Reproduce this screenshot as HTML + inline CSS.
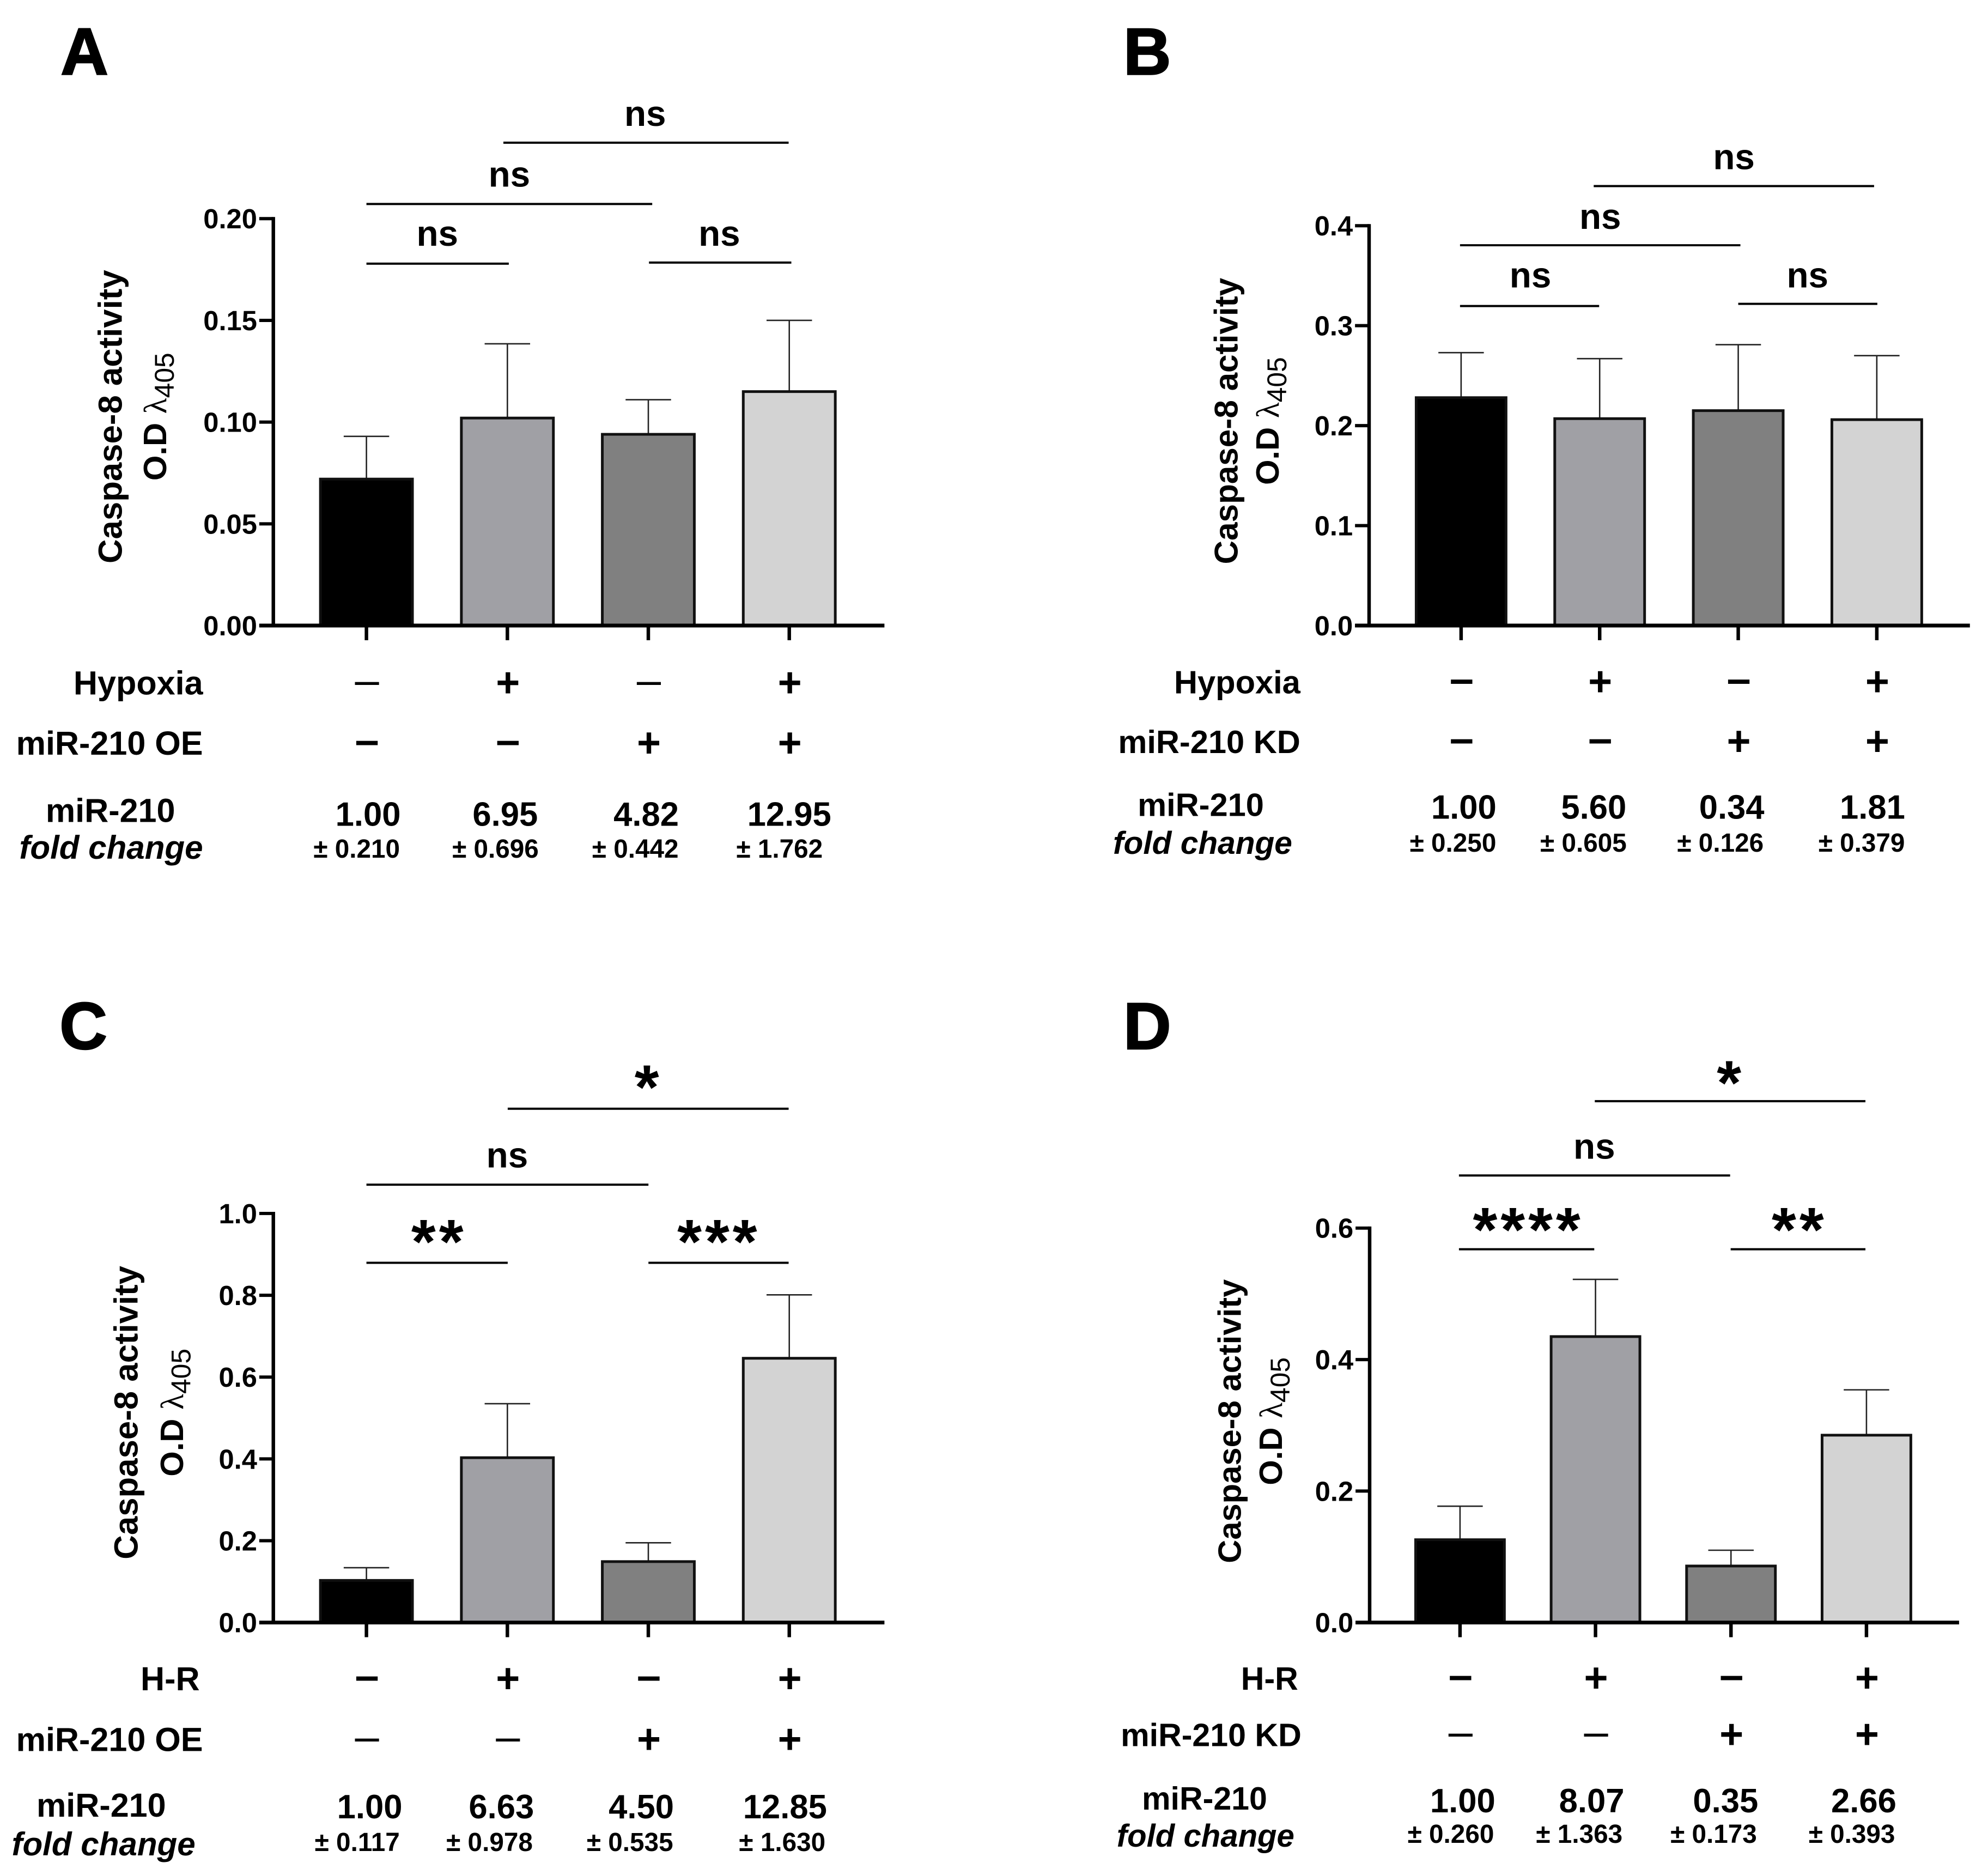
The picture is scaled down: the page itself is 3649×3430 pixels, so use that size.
<!DOCTYPE html>
<html lang="en">
<head>
<meta charset="utf-8">
<title>Caspase-8 activity panels</title>
<style>
html,body{margin:0;padding:0;background:#fff;}
svg{display:block;}
text{font-family:"Liberation Sans",Arial,sans-serif;font-weight:bold;fill:#000;}
</style>
</head>
<body>
<svg id="figure" xmlns="http://www.w3.org/2000/svg" width="3649" height="3430" viewBox="0 0 3649 3430">
<rect x="0" y="0" width="3649" height="3430" fill="#ffffff"/>
</svg>
<script>
const categories = ['control', 'stress', 'mir-210', 'stress-mir-210'];

const panelAValues = [0.072, 0.102, 0.094, 0.115];
const panelAErrorTops = [0.093, 0.1385, 0.111, 0.150];
const panelATicks = ['0.00', '0.05', '0.10', '0.15', '0.20'];
const panelAFold = ['1.00', '6.95', '4.82', '12.95'];
const panelAFoldError = ['± 0.210', '± 0.696', '± 0.442', '± 1.762'];

const panelBValues = [0.228, 0.207, 0.215, 0.206];
const panelBErrorTops = [0.273, 0.267, 0.281, 0.270];
const panelBTicks = ['0.0', '0.1', '0.2', '0.3', '0.4'];
const panelBFold = ['1.00', '5.60', '0.34', '1.81'];
const panelBFoldError = ['± 0.250', '± 0.605', '± 0.126', '± 0.379'];

const panelCValues = [0.103, 0.403, 0.149, 0.646];
const panelCErrorTops = [0.134, 0.535, 0.195, 0.801];
const panelCTicks = ['0.0', '0.2', '0.4', '0.6', '0.8', '1.0'];
const panelCFold = ['1.00', '6.63', '4.50', '12.85'];
const panelCFoldError = ['± 0.117', '± 0.978', '± 0.535', '± 1.630'];

const panelDValues = [0.126, 0.435, 0.086, 0.285];
const panelDErrorTops = [0.177, 0.522, 0.110, 0.354];
const panelDTicks = ['0.0', '0.2', '0.4', '0.6'];
const panelDFold = ['1.00', '8.07', '0.35', '2.66'];
const panelDFoldError = ['± 0.260', '± 1.363', '± 0.173', '± 0.393'];

const firstRowSigns = ['–', '+', '–', '+'];
const secondRowSigns = ['–', '–', '+', '+'];
const barColors = ['#000000', '#a0a0a5', '#808080', '#d3d3d3'];

const SVG_NS = 'http://www.w3.org/2000/svg';
const figure = document.getElementById('figure');

function make(tag, parent, attrs, content) {
  const el = document.createElementNS(SVG_NS, tag);
  Object.keys(attrs).forEach(function (k) { el.setAttribute(k, attrs[k]); });
  if (content !== undefined) { el.textContent = content; }
  parent.appendChild(el);
  return el;
}

function signAttrs(cx, rowY, sign, thin) {
  const isPlus = sign === '+';
  return {
    x: cx + 1,
    y: isPlus ? rowY + 26 : rowY + 22,
    'font-size': isPlus ? 76 : 80,
    'text-anchor': 'middle',
    style: (!isPlus && thin) ? 'font-weight:normal' : 'font-weight:bold'
  };
}

function drawPanel(p) {
  const g = make('g', figure, { transform: p.transform });
  
  

  const yMax = parseFloat(p.ticks[p.ticks.length - 1]);
  const yScale = function (v) { return p.y0 + (p.yTop - p.y0) * v / yMax; };
  const xScale = function (i) { return p.x0 + p.step * i; };

  const letter = make('text', g, { x: p.letterX, y: p.letterY, 'font-size': 122, stroke: '#000', 'stroke-width': 2.5 }, p.id.toUpperCase());
  
  

  categories.forEach(function (c, i) {
    const cx = xScale(i);
    const top = yScale(p.values[i]);
    const err = yScale(p.errors[i]);

    const stem = make('line', g, { x1: cx, x2: cx, y1: err, y2: top, stroke: '#222', 'stroke-width': 2.6 });
    
    

    const cap = make('line', g, { x1: cx - 42, x2: cx + 42, y1: err, y2: err, stroke: '#222', 'stroke-width': 2.6 });
    
    

    const bar = make('rect', g, { x: cx - p.barHalf, y: top, width: p.barHalf * 2, height: p.y0 - top, fill: barColors[i], stroke: '#111', 'stroke-width': 5 });
    
    

    const xTick = make('line', g, { x1: cx, x2: cx, y1: p.y0, y2: p.y0 + 27, stroke: '#000', 'stroke-width': 6.5 });
    
    

    const s1 = firstRowSigns[i];
    const sign1 = make('text', g, signAttrs(cx, p.row1Y, s1, p.row1Thin), s1);
    
    

    const s2 = secondRowSigns[i];
    const sign2 = make('text', g, signAttrs(cx, p.row2Y, s2, p.row2Thin), s2);
    
    

    const fold = make('text', g, { x: cx + p.foldDx[i], y: p.foldY + 22, 'font-size': 62, 'text-anchor': 'middle' }, p.fold[i]);
    
    

    const foldErr = make('text', g, { x: cx + p.foldErrDx[i], y: p.foldErrY + 17, 'font-size': 48, 'text-anchor': 'middle' }, p.foldError[i]);
    
    
  });

  p.ticks.forEach(function (t) {
    const y = yScale(parseFloat(t));
    const tick = make('line', g, { x1: p.axisX - 26, x2: p.axisX, y1: y, y2: y, stroke: '#000', 'stroke-width': 6 });
    
    

    const label = make('text', g, { x: p.axisX - 30, y: y + 18, 'font-size': 51, 'text-anchor': 'end' }, t);
    
    
  });

  const yAxis = make('line', g, { x1: p.axisX, x2: p.axisX, y1: p.yTop - 3, y2: p.y0 + 3, stroke: '#000', 'stroke-width': 6.5 });
  
  

  const xAxis = make('line', g, { x1: p.axisX - 26, x2: p.xEnd, y1: p.y0, y2: p.y0, stroke: '#000', 'stroke-width': 7 });
  
  

  const title1 = make('text', g, { transform: 'translate(' + p.title1X + ' ' + p.titleY + ') rotate(-90)', 'font-size': p.titleFont, 'text-anchor': 'middle', y: 21 }, 'Caspase-8 activity');
  
  

  const title2 = make('text', g, { transform: 'translate(' + p.title2X + ' ' + p.titleY + ') rotate(-90)', 'font-size': 60, 'text-anchor': 'middle', y: 21 });
  
  
  make('tspan', title2, {}, 'O.D ');
  const lam = make('tspan', title2, { style: 'font-family:"Liberation Serif","DejaVu Serif",serif;font-weight:normal' }, 'λ');
  
  
  const sub = make('tspan', title2, { dy: 14, 'font-size': 50, style: 'font-weight:normal' }, '405');
  
  

  const rowLabels = [
    [p.row1Label, p.labelRight1, p.row1Y + 22, 'normal', 'end', 'first-row-label'],
    [p.row2Label, p.labelRight2, p.row2Y + 22, 'normal', 'end', 'second-row-label'],
    ['miR-210', p.mirX, p.mirY + 22, 'normal', 'middle', 'mir-210-label'],
    ['fold change', p.foldLabelRight, p.foldLabelY + 15, 'italic', 'end', 'fold-change-label']
  ];
  rowLabels.forEach(function (r) {
    const t = make('text', g, { x: r[1], y: r[2], 'font-size': r[3] === 'italic' ? p.labelFont - 1 : p.labelFont, 'font-style': r[3], 'text-anchor': r[4] }, r[0]);
    
    
  });

  p.brackets.forEach(function (b, k) {
    const line = make('line', g, { x1: b.from, x2: b.to, y1: b.y, y2: b.y, stroke: '#000', 'stroke-width': 4 });
    
    

    const isStar = b.label !== 'ns';
    const lab = make('text', g, {
      x: b.labelX,
      y: isStar ? b.labelY + 54 : b.labelY + 20,
      'font-size': isStar ? 116 : 66,
      'text-anchor': 'middle',
      'letter-spacing': isStar ? 6 : 0
    }, b.label);
    
    
  });
}

drawPanel({
  id: 'a', transform: 'scale(0.9935 0.9957)',
  ticks: panelATicks, values: panelAValues, errors: panelAErrorTops, fold: panelAFold, foldError: panelAFoldError,
  axisX: 505, yTop: 403, y0: 1153, xEnd: 1634, x0: 677, step: 260.4, barHalf: 85,
  letterX: 112, letterY: 137, titleFont: 62, labelFont: 61.5,
  title1X: 204, title2X: 286, titleY: 768,
  row1Label: 'Hypoxia', row2Label: 'miR-210 OE', labelRight1: 375, labelRight2: 375,
  row1Y: 1258, row2Y: 1369, mirX: 204, mirY: 1493, foldLabelRight: 375, foldLabelY: 1568,
  foldY: 1500, foldErrY: 1564, foldDx: [3, -4, -4, 0], foldErrDx: [-18, -22, -24, -18], row1Thin: true, row2Thin: false,
  brackets: [
    { from: 930, to: 1457, y: 263, label: 'ns', labelX: 1192, labelY: 212 },
    { from: 677, to: 1205, y: 376, label: 'ns', labelX: 941, labelY: 324 },
    { from: 677, to: 940, y: 486, label: 'ns', labelX: 808, labelY: 433 },
    { from: 1199, to: 1462, y: 484, label: 'ns', labelX: 1329, labelY: 433 }
  ]
});

drawPanel({
  id: 'b', transform: 'translate(1900 0) scale(0.9935 0.9957) translate(-1900 0)',
  ticks: panelBTicks, values: panelBValues, errors: panelBErrorTops, fold: panelBFold, foldError: panelBFoldError,
  axisX: 2517, yTop: 416, y0: 1153, xEnd: 3627, x0: 2687, step: 256, barHalf: 83,
  letterX: 2063, letterY: 137, titleFont: 60.5, labelFont: 60,
  title1X: 2253, title2X: 2329, titleY: 776,
  row1Label: 'Hypoxia', row2Label: 'miR-210 KD', labelRight1: 2390, labelRight2: 2390,
  row1Y: 1256, row2Y: 1366, mirX: 2206, mirY: 1482, foldLabelRight: 2375, foldLabelY: 1559,
  foldY: 1487, foldErrY: 1553, foldDx: [5, -11, -12, -8], foldErrDx: [-15, -30, -33, -28], row1Thin: false, row2Thin: false,
  brackets: [
    { from: 2932, to: 3450, y: 343, label: 'ns', labelX: 3191, labelY: 292 },
    { from: 2685, to: 3203, y: 452, label: 'ns', labelX: 2944, labelY: 402 },
    { from: 2685, to: 2942, y: 564, label: 'ns', labelX: 2815, labelY: 510 },
    { from: 3199, to: 3456, y: 560, label: 'ns', labelX: 3327, labelY: 510 }
  ]
});

drawPanel({
  id: 'c', transform: 'translate(0 1750) scale(0.9935 0.9957) translate(0 -1750)',
  ticks: panelCTicks, values: panelCValues, errors: panelCErrorTops, fold: panelCFold, foldError: panelCFoldError,
  axisX: 505, yTop: 2229, y0: 2983, xEnd: 1634, x0: 677, step: 260.4, barHalf: 85,
  letterX: 110, letterY: 1926, titleFont: 62, labelFont: 61.5,
  title1X: 233, title2X: 317, titleY: 2596,
  row1Label: 'H-R', row2Label: 'miR-210 OE', labelRight1: 369, labelRight2: 375,
  row1Y: 3086, row2Y: 3198, mirX: 187, mirY: 3319, foldLabelRight: 361, foldLabelY: 3397,
  foldY: 3322, foldErrY: 3387, foldDx: [6, -11, -13, -8], foldErrDx: [-17, -33, -34, -13], row1Thin: false, row2Thin: true,
  brackets: [
    { from: 938, to: 1457, y: 2036, label: '*', labelX: 1198, labelY: 1982 },
    { from: 677, to: 1198, y: 2176, label: 'ns', labelX: 937, labelY: 2124 },
    { from: 677, to: 938, y: 2320, label: '**', labelX: 811, labelY: 2267 },
    { from: 1198, to: 1457, y: 2320, label: '***', labelX: 1328, labelY: 2267 }
  ]
});

drawPanel({
  id: 'd', transform: 'translate(1900 1750) scale(0.9935 0.9957) translate(-1900 -1750)',
  ticks: panelDTicks, values: panelDValues, errors: panelDErrorTops, fold: panelDFold, foldError: panelDFoldError,
  axisX: 2518, yTop: 2256, y0: 2983, xEnd: 3607, x0: 2685, step: 250.3, barHalf: 82,
  letterX: 2063, letterY: 1926, titleFont: 60, labelFont: 59.5,
  title1X: 2259, title2X: 2335, titleY: 2612,
  row1Label: 'H-R', row2Label: 'miR-210 KD', labelRight1: 2386, labelRight2: 2392,
  row1Y: 3085, row2Y: 3189, mirX: 2213, mirY: 3306, foldLabelRight: 2379, foldLabelY: 3381,
  foldY: 3311, foldErrY: 3372, foldDx: [5, -7, -10, -5], foldErrDx: [-17, -30, -32, -27], row1Thin: false, row2Thin: true,
  brackets: [
    { from: 2934, to: 3434, y: 2022, label: '*', labelX: 3185, labelY: 1974 },
    { from: 2683, to: 3184, y: 2159, label: 'ns', labelX: 2933, labelY: 2108 },
    { from: 2683, to: 2933, y: 2295, label: '****', labelX: 2811, labelY: 2245 },
    { from: 3185, to: 3434, y: 2295, label: '**', labelX: 3312, labelY: 2245 }
  ]
});
</script>
</body>
</html>
